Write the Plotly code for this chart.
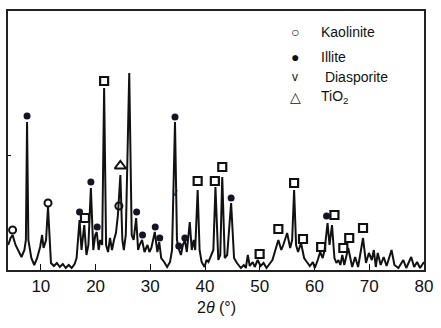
import plotly.graph_objects as go

# ---- XRD trace (2theta in degrees, intensity in arbitrary units) ----
two_theta = [4.03, 4.48, 4.84, 5.38, 6.46, 7.0, 7.27, 7.48, 7.72, 8.26, 8.8, 9.33, 9.87, 10.23,
             10.5, 10.95, 11.31, 11.58, 11.85, 12.39, 12.93, 13.47, 14.01, 14.55, 15.09, 15.63,
             16.17, 16.53, 17.07, 17.43, 17.93, 18.33, 18.69, 19.14, 19.58, 19.94, 20.21, 20.57,
             20.84, 21.2, 21.56, 21.92, 22.28, 22.64, 23.0, 23.36, 23.72, 24.08, 24.53, 24.89,
             25.16, 25.52, 26.15, 26.6, 26.95, 27.41, 27.77, 28.04, 28.49, 28.94, 29.48, 29.84,
             30.19, 30.82, 31.29, 31.63, 31.99, 32.53, 33.07, 33.6, 33.97, 34.51, 34.87, 35.14,
             35.59, 35.95, 36.31, 36.67, 37.21, 37.57, 37.93, 38.2, 38.65, 39.0, 39.37, 39.9,
             40.27, 40.62, 41.16, 41.52, 41.9, 42.42, 42.78, 43.14, 43.6, 44.04, 44.76, 45.3,
             45.83, 46.55, 47.09, 47.45, 47.81, 48.17, 48.71, 49.07, 49.61, 50.15, 50.69, 51.23,
             51.77, 52.31, 52.85, 53.39, 53.93, 54.29, 55.0, 55.55, 55.91, 56.27, 56.63, 56.99,
             57.53, 58.1, 58.6, 59.15, 59.7, 60.05, 60.59, 61.03, 61.49, 61.84, 62.38, 62.74,
             63.19, 63.64, 64.0, 64.36, 64.72, 65.08, 65.44, 66.16, 66.88, 67.42, 67.96, 68.32,
             68.86, 69.4, 69.93, 70.47, 70.83, 71.19, 71.55, 72.09, 72.63, 73.17, 74.07, 74.6,
             75.32, 76.22, 76.76, 77.66, 78.2, 78.74, 79.28, 80.0]
intensity = [25, 32, 35, 25, 13, 20, 30, 148, 30, 12, 5, 12, 23, 35,
             22, 30, 63, 30, 7, 4, 7, 3, 6, 2, 5, 2,
             6, 12, 50, 20, 45, 15, 25, 82, 20, 35, 38, 20,
             30, 25, 182, 25, 18, 32, 20, 30, 37, 55, 95, 30,
             20, 35, 197, 35, 30, 52, 20, 25, 30, 18, 25, 18,
             22, 38, 18, 28, 12, 8, 3, 8, 20, 148, 30, 22,
             15, 25, 30, 18, 48, 20, 30, 20, 80, 20, 8, 3,
             10, 8, 15, 20, 83, 10, 15, 93, 12, 15, 67, 12,
             7, 2, 5, 2, 15, 4, 8, 3, 10, 4, 7, 2,
             6, 10, 20, 30, 20, 25, 37, 22, 30, 80, 25, 18,
             27, 12, 8, 4, 8, 2, 10, 18, 12, 20, 47, 25,
             45, 12, 7, 10, 5, 15, 5, 22, 3, 13, 3, 15,
             32, 7, 17, 10, 20, 3, 17, 5, 13, 4, 20, 5,
             2, 10, 2, 13, 3, 8, 2, 8]

# ---- phase markers ----
square_tt = [18.06, 21.56, 38.65, 41.79, 43.14, 49.97, 53.39, 56.27, 57.89, 61.21, 63.64, 65.26, 66.34, 68.86]
square_i = [52, 189, 89, 89, 103, 16, 41, 87, 31, 23, 55, 22, 32, 42]
kaolinite_tt = [4.84, 11.31, 24.26]
kaolinite_i = [40, 67, 64]
illite_tt = [7.48, 17.07, 19.14, 20.3, 27.5, 28.58, 30.9, 31.72, 34.51, 35.2, 36.31, 44.76, 62.2]
illite_i = [154, 58, 88, 43, 58, 35, 43, 32, 153, 24, 32, 72, 54]
diasporite_tt = [34.51]
diasporite_i = [77]
tio2_tt = [24.53]
tio2_i = [104]

x_ticks = [10, 20, 30, 40, 50, 60, 70, 80]
legend_symbols = ["○", "●", "v", "△"]
legend_labels = ["Kaolinite", "Illite", " Diasporite", "TiO<sub>2</sub>"]

FONT = "Liberation Sans, Arial, sans-serif"
INK = "#111111"

fig = go.Figure()
fig.add_trace(go.Scatter(x=two_theta, y=intensity, mode="lines",
                         line=dict(color=INK, width=2), hoverinfo="skip"))
fig.add_trace(go.Scatter(x=square_tt, y=square_i, mode="markers",
                         marker=dict(symbol="square-open", size=8, color=INK, line=dict(width=2.2))))
fig.add_trace(go.Scatter(x=kaolinite_tt, y=kaolinite_i, mode="markers",
                         marker=dict(symbol="circle-open", size=7, color=INK, line=dict(width=2))))
fig.add_trace(go.Scatter(x=illite_tt, y=illite_i, mode="markers",
                         marker=dict(symbol="circle", size=7, color="#141428")))
fig.add_trace(go.Scatter(x=tio2_tt, y=tio2_i, mode="markers",
                         marker=dict(symbol="triangle-up-open", size=10, color=INK, line=dict(width=2))))
fig.add_trace(go.Scatter(x=diasporite_tt, y=diasporite_i, mode="text", text=["v"],
                         textfont=dict(size=10, color=INK, family=FONT)))

# legend as text
leg_y = [0.919, 0.822, 0.745, 0.668]
for sym, lab, yy in zip(legend_symbols, legend_labels, leg_y):
    fig.add_annotation(x=0.69, y=yy, xref="paper", yref="paper", text=sym, showarrow=False,
                       font=dict(size=14 if sym != "v" else 12, color=INK, family=FONT),
                       xanchor="center", yanchor="middle")
    fig.add_annotation(x=0.748, y=yy, xref="paper", yref="paper", text=lab, showarrow=False,
                       font=dict(size=14, color=INK, family=FONT),
                       xanchor="left", yanchor="middle")

fig.add_annotation(x=0.5, y=-0.143, xref="paper", yref="paper", text="2<i>θ</i> (°)",
                   showarrow=False, font=dict(size=16, color=INK, family=FONT),
                   xanchor="center", yanchor="middle")

fig.update_layout(
    width=441, height=328,
    margin=dict(l=8, r=10, t=11, b=58),
    paper_bgcolor="white", plot_bgcolor="white",
    showlegend=False,
    font=dict(family=FONT, color=INK),
)
fig.update_xaxes(range=[4, 80], tickvals=x_ticks, ticks="inside", ticklen=6, tickwidth=1,
                 tickcolor=INK, showgrid=False, zeroline=False, showline=True, linecolor="#222",
                 linewidth=1.5, mirror=True, ticklabelstandoff=0,
                 tickfont=dict(size=17, color=INK, family=FONT))
fig.update_yaxes(range=[0, 259], tickvals=[115], ticks="inside", ticklen=3, tickcolor=INK,
                 showticklabels=False, showgrid=False, zeroline=False, showline=True,
                 linecolor="#222", linewidth=1.5, mirror=True)

fig.write_html("out.html", config={"displayModeBar": False},
               post_script="document.body.style.margin='0';document.body.style.overflow='hidden';")
